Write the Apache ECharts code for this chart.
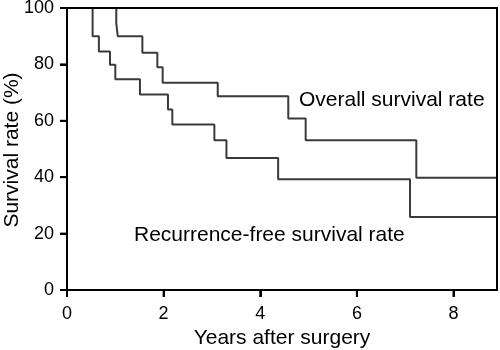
<!DOCTYPE html>
<html>
<head>
<meta charset="utf-8">
<script src="https://cdn.jsdelivr.net/npm/echarts@6/dist/echarts.min.js"></script>
<style>
html,body{margin:0;padding:0;background:#fff;}
#chart{width:500px;height:350px;}
</style>
</head>
<body>
<div id="chart"></div>
<script>
// Overall survival (Kaplan-Meier step points: time in years, survival %)
const osTimes  = [0, 1.02, 1.05, 1.56, 1.87, 1.98, 3.12, 4.58, 4.94, 7.23, 8.9];
const osValues = [100, 94.6, 90, 84.1, 79, 73.5, 68.7, 60.8, 53.1, 39.8, 39.8];
// Recurrence-free survival
const rfsTimes  = [0, 0.53, 0.66, 0.89, 1.0, 1.51, 2.09, 2.18, 3.05, 3.30, 4.37, 7.10, 8.9];
const rfsValues = [100, 90, 84.6, 79.9, 74.7, 69.3, 64, 58.7, 53.1, 46.8, 39.3, 25.9, 25.9];
const xTicks = [0, 2, 4, 6, 8];
const yTicks = [0, 20, 40, 60, 80, 100];
const xRange = [0, 8.9];
const yRange = [0, 100];
const seriesNames = ['Overall survival rate', 'Recurrence-free survival rate'];
const xName = 'Years after surgery';
const yName = 'Survival rate (%)';

const font = "'Liberation Sans', Arial, Helvetica, sans-serif";
const zip = (a, b) => a.map((t, i) => [t, b[i]]);
const TICK = 7;

// Frame box and outward ticks, placed through the axes' scales
function renderFrame(params, api) {
  const p0 = api.coord([xRange[0], yRange[0]]);
  const p1 = api.coord([xRange[1], yRange[1]]);
  const st = {stroke: '#000', lineWidth: 2, fill: null};
  const children = [{type: 'rect', shape: {x: p0[0], y: p1[1], width: p1[0] - p0[0], height: p0[1] - p1[1]}, style: st}];
  xTicks.forEach(v => {
    const p = api.coord([v, yRange[0]]);
    children.push({type: 'line', shape: {x1: p[0], y1: p[1], x2: p[0], y2: p[1] + TICK}, style: st});
  });
  yTicks.forEach(v => {
    const p = api.coord([xRange[0], v]);
    children.push({type: 'line', shape: {x1: p[0], y1: p[1], x2: p[0] - TICK, y2: p[1]}, style: st});
  });
  return {type: 'group', children: children};
}

const chart = echarts.init(document.getElementById('chart'));
chart.setOption({
  animation: false,
  backgroundColor: '#fff',
  grid: {left: 67, right: 3, top: 8, bottom: 60, outerBoundsMode: 'none', containLabel: false,
         show: true, borderColor: '#000', borderWidth: 2},
  xAxis: {
    type: 'value', min: xRange[0], max: xRange[1], interval: 2,
    name: xName, nameLocation: 'middle', nameGap: 38,
    nameTextStyle: {fontFamily: font, fontSize: 21, color: '#000'},
    axisLine: {show: true, onZero: false, lineStyle: {color: '#000', width: 2}},
    axisTick: {show: true, length: TICK, customValues: xTicks, lineStyle: {color: '#000', width: 2}},
    axisLabel: {customValues: xTicks, margin: 15, fontFamily: font, fontSize: 18, color: '#000'},
    splitLine: {show: false}
  },
  yAxis: {
    type: 'value', min: yRange[0], max: yRange[1], interval: 20,
    axisLine: {show: true, onZero: false, lineStyle: {color: '#000', width: 2}},
    axisTick: {show: true, length: TICK, customValues: yTicks, lineStyle: {color: '#000', width: 2}},
    axisLabel: {customValues: yTicks, margin: 13, fontFamily: font, fontSize: 18, color: '#000'},
    splitLine: {show: false}
  },
  series: [
    {name: seriesNames[0], type: 'line', step: 'end', showSymbol: false, symbol: 'none',
     data: zip(osTimes, osValues), lineStyle: {color: '#3a3a3a', width: 2}},
    {name: seriesNames[1], type: 'line', step: 'end', showSymbol: false, symbol: 'none',
     data: zip(rfsTimes, rfsValues), lineStyle: {color: '#3a3a3a', width: 2}},
    {type: 'custom', silent: true, clip: false, z: 5, data: [[xRange[0], yRange[0]]],
     renderItem: renderFrame}
  ],
  graphic: [
    {type: 'text', left: 299, top: 90, style: {text: seriesNames[0], font: '21px ' + font, fill: '#000'}},
    {type: 'text', left: 134, top: 225, style: {text: seriesNames[1], font: '21px ' + font, fill: '#000'}},
    {type: 'text', x: 12, y: 150, rotation: Math.PI / 2,
     style: {text: yName, font: '21px ' + font, fill: '#000', align: 'center', verticalAlign: 'middle'}}
  ]
});
</script>
</body>
</html>
